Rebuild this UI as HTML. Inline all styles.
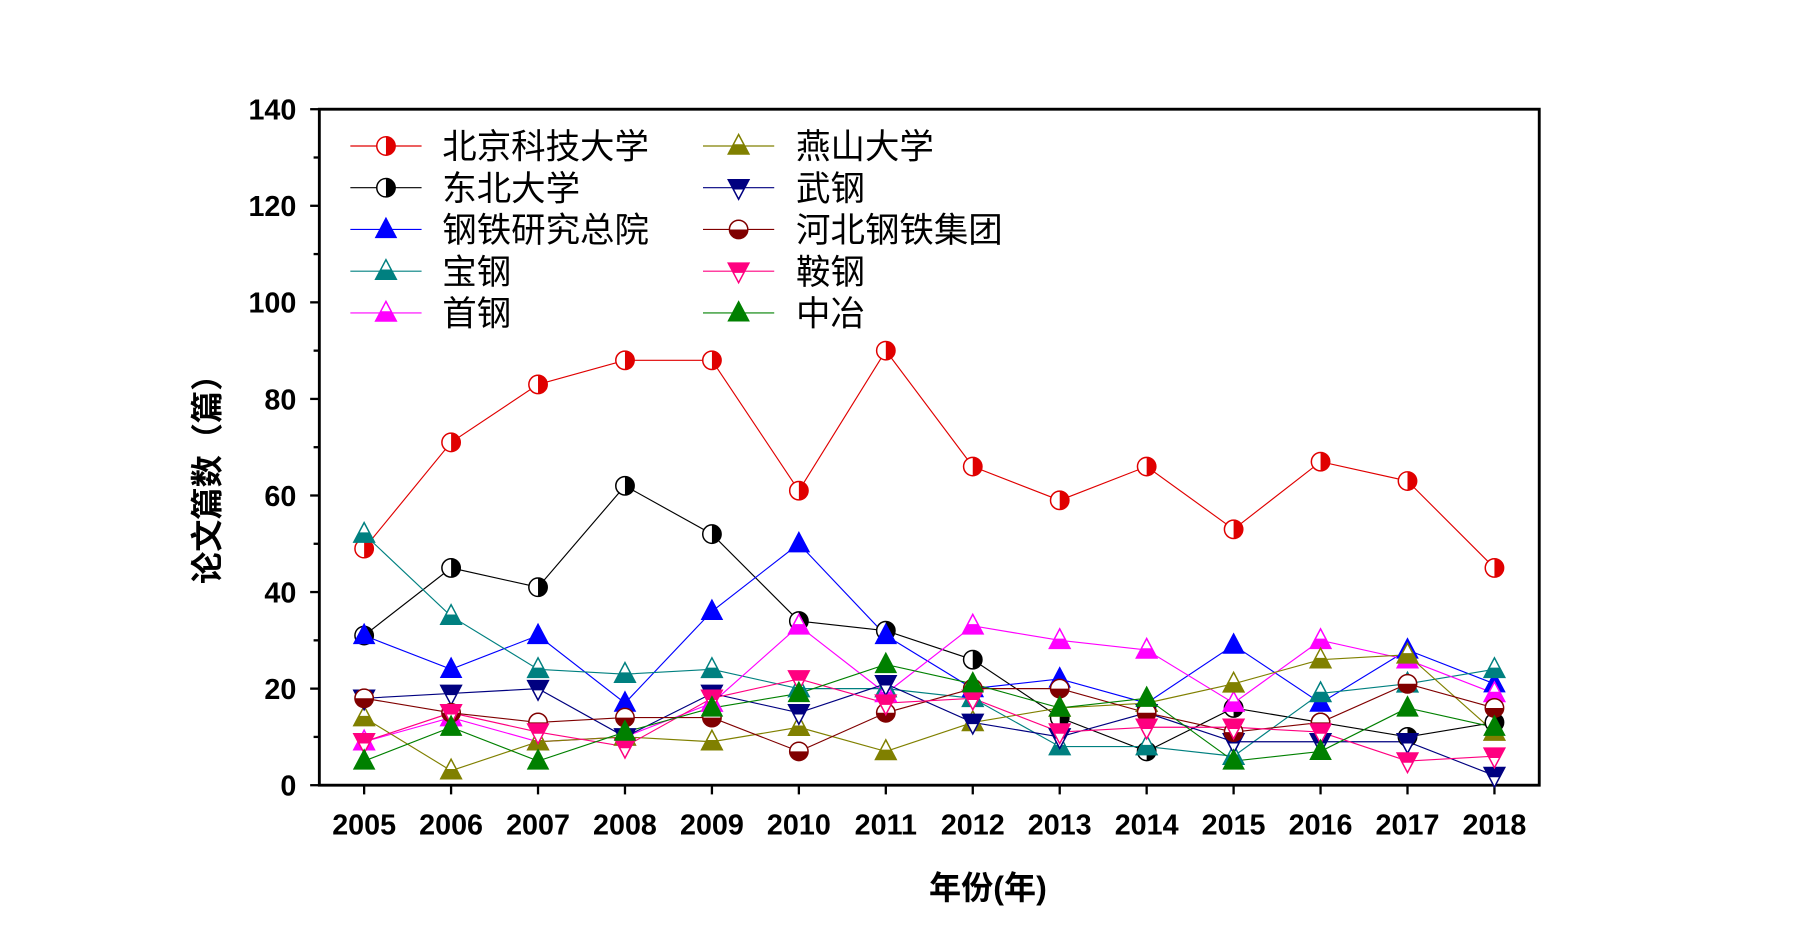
<!DOCTYPE html>
<html><head><meta charset="utf-8"><style>
html,body{margin:0;padding:0;background:#fff;}
svg{display:block;}
text{font-family:"Liberation Sans","Noto Sans CJK SC",sans-serif;}
</style></head><body>
<svg id="s" width="1800" height="945" viewBox="0 0 1567 822" preserveAspectRatio="none" xmlns="http://www.w3.org/2000/svg"></svg>
<script>
const s=document.getElementById('s');let h='';
const X=y=>317+(y-2005)*(1301-317)/13, Y=v=>683-v*4.2;
h+='<rect x="278" y="95" width="1062" height="588" fill="none" stroke="#000" stroke-width="2.5"/>';
for(let v=0;v<=140;v+=10){const y=Y(v);const maj=v%20==0;h+=`<line x1="${maj?270:273}" x2="278" y1="${y}" y2="${y}" stroke="#000" stroke-width="2"/>`;
if(maj)h+=`<text x="258" y="${y+9}" font-size="25" font-weight="bold" text-anchor="end">${v}</text>`;}
for(let yr=2005;yr<=2018;yr++){const x=X(yr);h+=`<line x1="${x}" x2="${x}" y1="683" y2="691" stroke="#000" stroke-width="2"/><text x="${x}" y="726" font-size="25" font-weight="bold" text-anchor="middle">${yr}</text>`;}
h+='<text transform="translate(190,410) rotate(-90)" font-size="28" text-anchor="middle" font-weight="bold">论文篇数（篇）</text>';
h+='<text x="860" y="782" font-size="28" text-anchor="middle" font-weight="bold">年份(年)</text>';
const S=[
['北京科技大学','#e00000','hc',[49,71,83,88,88,61,90,66,59,66,53,67,63,45]],
['东北大学','#000','hc',[31,45,41,62,52,34,32,26,14,7,16,13,10,13]],
['钢铁研究总院','#0000ff','ft',[31,24,31,17,36,50,31,20,22,17,29,17,28,21]],
['宝钢','#008080','ht',[52,35,24,23,24,20,20,18,8,8,6,19,21,24]],
['首钢','#ff00ff','ht',[9,14,9,10,17,33,19,33,30,28,17,30,26,19]],
['燕山大学','#808000','ht',[14,3,9,10,9,12,7,13,16,17,21,26,27,11]],
['武钢','#000080','hd',[18,19,20,10,19,15,21,13,10,15,9,9,9,2]],
['河北钢铁集团','#800000','hb',[18,15,13,14,14,7,15,20,20,15,11,13,21,16]],
['鞍钢','#ff0080','hd',[9,15,11,8,18,22,17,18,11,12,12,11,5,6]],
['中冶','#008000','ft',[5,12,5,11,16,19,25,21,16,18,5,7,16,12]]];
function mk(t,c,x,y){const r=8;
if(t=='hc')return `<circle cx="${x}" cy="${y}" r="${r}" fill="#fff" stroke="${c}" stroke-width="1.3"/><path d="M${x},${y-r}A${r},${r} 0 0 1 ${x},${y+r}Z" fill="${c}"/>`;
if(t=='hb')return `<circle cx="${x}" cy="${y}" r="${r}" fill="#fff" stroke="${c}" stroke-width="1.3"/><path d="M${x-r},${y}A${r},${r} 0 0 0 ${x+r},${y}Z" fill="${c}"/>`;
const up=`${x},${y-10} ${x+9},${y+7} ${x-9},${y+7}`;
if(t=='ft')return `<polygon points="${up}" fill="${c}" stroke="${c}"/>`;
if(t=='ht')return `<polygon points="${up}" fill="#fff" stroke="${c}" stroke-width="1.3"/><polygon points="${x-4.5},${y-1.5} ${x+4.5},${y-1.5} ${x+9},${y+7} ${x-9},${y+7}" fill="${c}"/>`;
if(t=='hd')return `<polygon points="${x-9},${y-7} ${x+9},${y-7} ${x},${y+10}" fill="#fff" stroke="${c}" stroke-width="1.3"/><polygon points="${x-9},${y-7} ${x+9},${y-7} ${x+4.5},${y+1.5} ${x-4.5},${y+1.5}" fill="${c}"/>`;}
S.forEach(([n,c,t,d])=>{h+=`<polyline fill="none" stroke="${c}" stroke-width="1" points="${d.map((v,i)=>X(2005+i)+','+Y(v)).join(' ')}"/>`;});
S.forEach(([n,c,t,d])=>{d.forEach((v,i)=>h+=mk(t,c,X(2005+i),Y(v)));});
S.forEach(([n,c,t,d],i)=>{const col=i<5?0:1,row=i%5;const lx=col?612:305,tx=col?693:385,y=127+row*36.3;
h+=`<line x1="${lx}" x2="${lx+62}" y1="${y}" y2="${y}" stroke="${c}" stroke-width="1"/>`+mk(t,c,lx+31,y)+`<text x="${tx}" y="${y+11}" font-size="30">${n}</text>`;});
s.innerHTML=h;
</script>
</body></html>
